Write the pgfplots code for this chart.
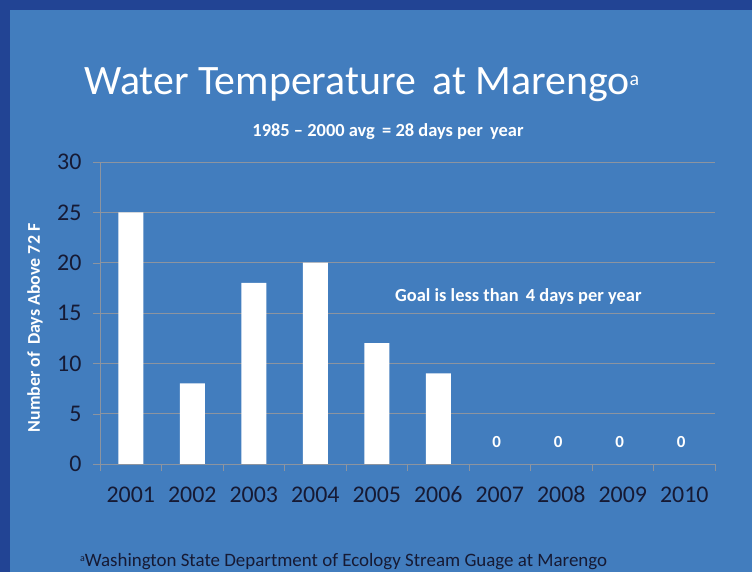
\documentclass[border=0pt]{standalone}
\usepackage{pgfplots}
\pgfplotsset{compat=1.18}
\usepackage{fontspec}
\setmainfont{Carlito}[Numbers=Lining]
\definecolor{slidebg}{RGB}{66,125,190}
\definecolor{framebg}{RGB}{34,68,148}
\definecolor{tickc}{RGB}{22,26,52}
\definecolor{gridc}{RGB}{140,148,160}
\begin{document}
\begin{tikzpicture}[x=1bp,y=1bp]
\fill[framebg] (0,0) rectangle (752,572);
\fill[slidebg] (10,0) rectangle (752,562);
\begin{axis}[
  at={(100bp,108bp)}, anchor=south west,
  scale only axis, width=615bp, height=302bp,
  xmin=0.5, xmax=10.5, ymin=0, ymax=30,
  xtick={1,...,10},
  xticklabels={2001,2002,2003,2004,2005,2006,2007,2008,2009,2010},
  minor xtick={0.5,1.5,...,10.5},
  ytick={0,5,...,30},
  axis x line*=bottom, axis y line*=left,
  axis line style={gridc,-},
  tick align=outside,
  major x tick style={draw=none},
  minor x tick style={gridc},
  major y tick style={gridc},
  major tick length=7bp, minor tick length=7bp,
  ymajorgrids, grid style={gridc, line width=0.6pt},
  /pgf/number format/assume math mode=true,
  ticklabel style={font=\fontsize{24}{26}\selectfont, text=tickc},
  xticklabel style={yshift=-12bp},
  yticklabel style={xshift=-8bp},
]
\addplot[ybar, bar width=25bp, bar shift=0pt, fill=white, draw=none] coordinates {
  (1,25) (2,8) (3,18) (4,20) (5,12) (6,9)
};
\addplot[sharp plot, draw=none, mark=none,
  nodes near coords,
  every node near coord/.append style={font=\bfseries\fontsize{17}{19}\selectfont, text=white, anchor=center, yshift=22bp, xshift=-3bp}]
  coordinates {(7,0) (8,0) (9,0) (10,0)};
\end{axis}
\node[anchor=base west, text=white, font=\fontsize{42}{46}\selectfont, inner sep=0] at (84,477) {Water Temperature \,at Marengo\raisebox{9bp}{\fontsize{20}{22}\selectfont a}};
\node[anchor=base, text=white, font=\bfseries\fontsize{18.5}{20}\selectfont, inner sep=0] at (388,435) {1985 -- 2000 avg \,= 28 days per \,year};
\node[anchor=base west, text=white, font=\bfseries\fontsize{18.5}{20}\selectfont, inner sep=0] at (395,270) {Goal is less than \,4 days per year};
\node[rotate=90, text=white, font=\bfseries\fontsize{18}{20}\selectfont, inner sep=0] at (35,244) {Number of \,Days Above 72 F};
\node[anchor=base west, text=tickc, font=\fontsize{19}{21}\selectfont, inner sep=0] at (80,5) {\raisebox{5bp}{\fontsize{10}{12}\selectfont a}Washington State Department of Ecology Stream Guage at Marengo};
\pgfresetboundingbox
\useasboundingbox (0,0) rectangle (752,572);
\end{tikzpicture}
\end{document}
